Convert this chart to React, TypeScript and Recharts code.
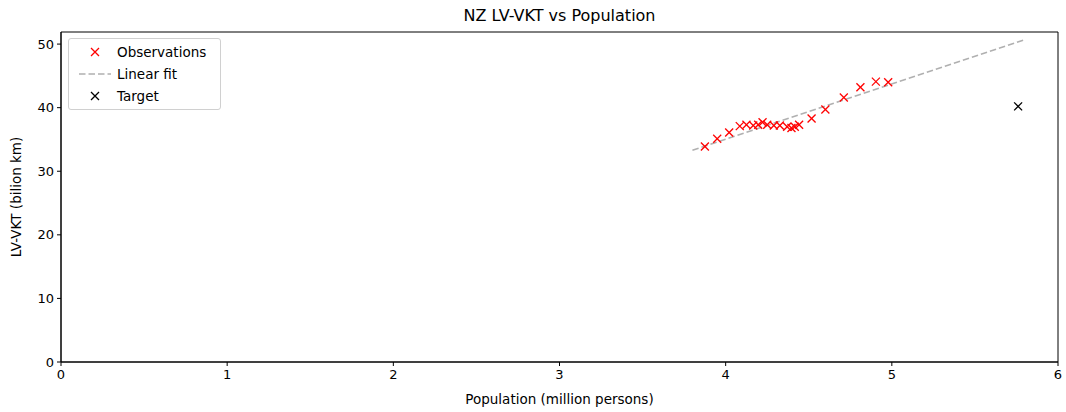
import { ScatterChart, Scatter, XAxis, YAxis, ReferenceArea, Label } from "recharts";

// observed population (million) and LV-VKT (billion km)
const popObs = [3.875, 3.949, 4.021, 4.085, 4.125, 4.166, 4.196, 4.222, 4.25, 4.29, 4.326, 4.37, 4.396, 4.416, 4.442, 4.517, 4.6, 4.711, 4.811, 4.904, 4.978];
const vktObs = [33.9, 35.1, 36.1, 37.1, 37.3, 37.2, 37.3, 37.7, 37.3, 37.2, 37.2, 37.0, 36.8, 37.0, 37.3, 38.3, 39.7, 41.6, 43.2, 44.1, 44.0];

// linear fit end points
const fitPop = [3.8, 5.79];
const fitVkt = [33.3, 50.6];

const targetPop = [5.76];
const targetVkt = [40.2];

const xTicks = [0, 1, 2, 3, 4, 5, 6];
const yTicks = [0, 10, 20, 30, 40, 50];

const obsData = popObs.map((x, i) => ({ x, y: vktObs[i] }));
const fitData = fitPop.map((x, i) => ({ x, y: fitVkt[i] }));
const targetData = targetPop.map((x, i) => ({ x, y: targetVkt[i] }));

const FONT = "'DejaVu Sans', sans-serif";
const TICK = { fill: "#000", fontSize: 13, fontFamily: FONT };

function xMarker(color: string) {
  return (props: any) => {
    const { cx, cy } = props;
    const r = 4;
    return (
      <g>
        <line x1={cx - r} y1={cy - r} x2={cx + r} y2={cy + r} stroke={color} strokeWidth={1.3} />
        <line x1={cx - r} y1={cy + r} x2={cx + r} y2={cy - r} stroke={color} strokeWidth={1.3} />
      </g>
    );
  };
}

function LegendBox() {
  const row = { display: "flex", alignItems: "center", height: 22 } as const;
  const icon = { width: 40, display: "flex", justifyContent: "center" } as const;
  return (
    <div
      style={{
        position: "absolute", left: 68, top: 38, width: 153, height: 72,
        border: "1px solid #d0d0d0", borderRadius: 3, background: "rgba(255,255,255,0.8)",
        fontFamily: FONT, fontSize: 13.5, color: "#000", padding: "2px 0 0 6px", boxSizing: "border-box",
      }}
    >
      <div style={row}>
        <span style={icon}>
          <svg width="12" height="12"><path d="M2 2L10 10M2 10L10 2" stroke="red" strokeWidth={1.3} /></svg>
        </span>
        <span style={{ marginLeft: 2 }}>Observations</span>
      </div>
      <div style={row}>
        <span style={icon}>
          <svg width="32" height="4"><line x1="0" y1="2" x2="32" y2="2" stroke="#b0b0b0" strokeWidth={1.6} strokeDasharray="6.5 3" /></svg>
        </span>
        <span style={{ marginLeft: 2 }}>Linear fit</span>
      </div>
      <div style={row}>
        <span style={icon}>
          <svg width="12" height="12"><path d="M2 2L10 10M2 10L10 2" stroke="#000" strokeWidth={1.3} /></svg>
        </span>
        <span style={{ marginLeft: 2 }}>Target</span>
      </div>
    </div>
  );
}

export default function App() {
  return (
    <div style={{ position: "absolute", left: 0, top: 0, width: 1066, height: 412, background: "#fff" }}>
      <div
        style={{
          position: "absolute", left: 61, width: 997, top: 6, textAlign: "center",
          fontFamily: FONT, fontSize: 16, color: "#000",
        }}
      >
        NZ LV-VKT vs Population
      </div>
      <ScatterChart width={1066} height={412} margin={{ top: 32, right: 8, left: 0, bottom: 0 }}>
        <XAxis
          type="number"
          dataKey="x"
          domain={[0, 6]}
          ticks={xTicks}
          height={50}
          tick={TICK}
          tickSize={4}
          tickMargin={4}
          axisLine={{ stroke: "#000" }}
          tickLine={{ stroke: "#000" }}
        >
          <Label value="Population (million persons)" position="insideBottom" offset={8} style={{ fill: "#000", fontSize: 13.5, fontFamily: FONT }} />
        </XAxis>
        <YAxis
          type="number"
          dataKey="y"
          domain={[0, 51.9]}
          ticks={yTicks}
          width={61}
          tick={TICK}
          tickSize={4}
          tickMargin={3}
          axisLine={{ stroke: "#000" }}
          tickLine={{ stroke: "#000" }}
          allowDataOverflow
        >
          <Label value="LV-VKT (bilion km)" angle={-90} position="insideLeft" offset={16} style={{ fill: "#000", fontSize: 13.5, fontFamily: FONT, textAnchor: "middle" }} />
        </YAxis>
        <ReferenceArea x1={0} x2={6} y1={0} y2={51.9} stroke="#000" strokeWidth={1} fill="none" fillOpacity={0} ifOverflow="visible" />
        <Scatter
          data={fitData}
          line={{ stroke: "#b0b0b0", strokeWidth: 1.6, strokeDasharray: "6.5 3" }}
          shape={() => <g />}
          isAnimationActive={false}
        />
        <Scatter data={obsData} shape={xMarker("red")} isAnimationActive={false} />
        <Scatter data={targetData} shape={xMarker("#000")} isAnimationActive={false} />
      </ScatterChart>
      <LegendBox />
    </div>
  );
}
